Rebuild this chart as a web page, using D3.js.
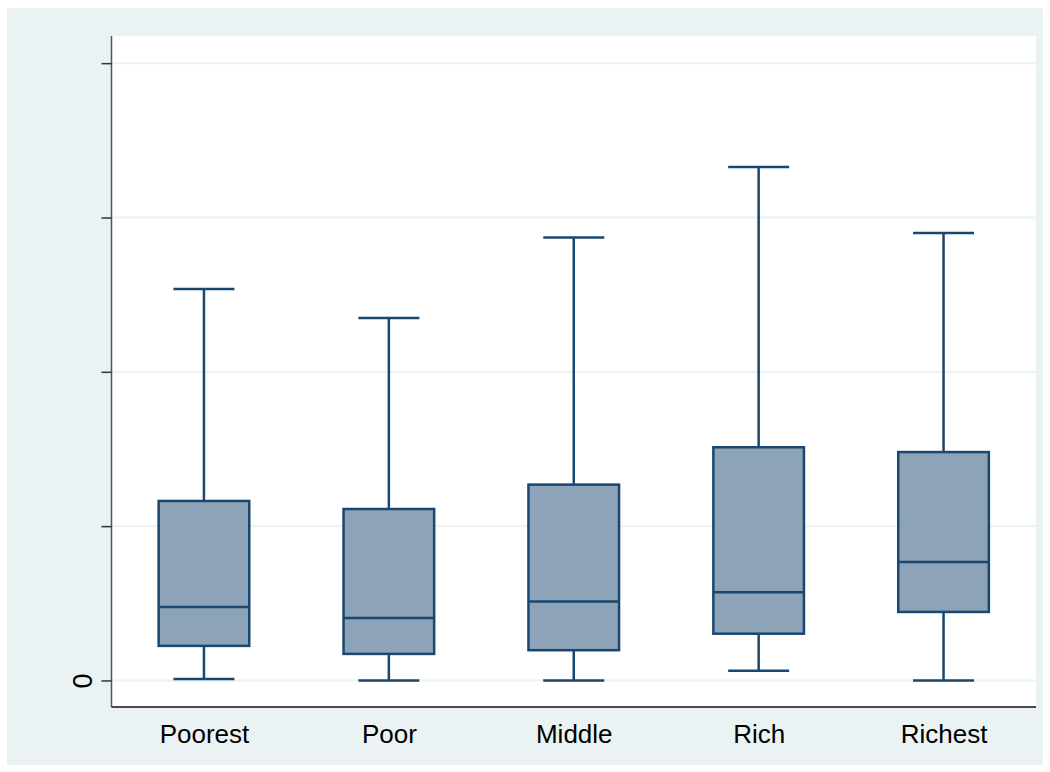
<!DOCTYPE html>
<html>
<head>
<meta charset="utf-8">
<script src="https://cdn.jsdelivr.net/npm/d3@7"></script>
<style>
  html, body { margin: 0; padding: 0; background: #ffffff; }
  svg { display: block; font-family: "Liberation Sans", Arial, sans-serif; }
</style>
</head>
<body>
<svg id="chart" width="1050" height="772"></svg>
<script>
// Wealth quintiles and their box-plot summaries
const categories = ["Poorest", "Poor", "Middle", "Rich", "Richest"];
const lowerWhisker = [0.01, 0.0, 0.0, 0.063, 0.0];
const q1 = [0.224, 0.172, 0.196, 0.303, 0.444];
const median = [0.476, 0.405, 0.511, 0.571, 0.768];
const q3 = [1.163, 1.111, 1.269, 1.511, 1.480];
const upperWhisker = [2.536, 2.349, 2.871, 3.327, 2.899];

// Y-axis ticks (only zero carries a label)
const yTickValues = [0, 1, 2, 3, 4];
const yTickLabels = ["0", "", "", "", ""];

const boxes = categories.map((c, i) => ({
  cat: c, lo: lowerWhisker[i], q1: q1[i], med: median[i], q3: q3[i], hi: upperWhisker[i]
}));

const svg = d3.select("#chart");

// Graph region background
svg.append("rect").attr("x", 7).attr("y", 8).attr("width", 1036).attr("height", 757)
  .attr("fill", "#eaf2f3");

const plot = { left: 111.5, right: 1036, top: 36, bottom: 707 };

// Plot region
svg.append("rect").attr("x", plot.left).attr("y", plot.top)
  .attr("width", plot.right - plot.left).attr("height", plot.bottom - plot.top)
  .attr("fill", "#ffffff");

const y = d3.scaleLinear().domain([-0.172, 4.176]).range([plot.bottom, plot.top]);
const x = d3.scalePoint().domain(categories).range([plot.left, plot.right]).padding(0.5);
const step = x.step();
const boxW = step * 0.49;
const capW = step * 0.33;

// Grid lines
svg.append("g").selectAll("line").data(yTickValues).join("line")
  .attr("x1", plot.left).attr("x2", plot.right)
  .attr("y1", d => y(d)).attr("y2", d => y(d))
  .attr("stroke", "#eaf2f3").attr("stroke-width", 2);

const stroke = "#1a476f";
const fill = "#8ca3b8";

const g = svg.append("g").selectAll("g").data(boxes).join("g")
  .attr("transform", d => `translate(${x(d.cat)},0)`);

// Whiskers
g.append("line").attr("x1", 0).attr("x2", 0)
  .attr("y1", d => y(d.hi)).attr("y2", d => y(d.q3))
  .attr("stroke", stroke).attr("stroke-width", 2.5);
g.append("line").attr("x1", 0).attr("x2", 0)
  .attr("y1", d => y(d.q1)).attr("y2", d => y(d.lo))
  .attr("stroke", stroke).attr("stroke-width", 2.5);
// Caps
g.append("line").attr("x1", -capW / 2).attr("x2", capW / 2)
  .attr("y1", d => y(d.hi)).attr("y2", d => y(d.hi))
  .attr("stroke", stroke).attr("stroke-width", 2.5);
g.append("line").attr("x1", -capW / 2).attr("x2", capW / 2)
  .attr("y1", d => y(d.lo)).attr("y2", d => y(d.lo))
  .attr("stroke", stroke).attr("stroke-width", 2.5);
// Boxes
g.append("rect").attr("x", -boxW / 2).attr("width", boxW)
  .attr("y", d => y(d.q3)).attr("height", d => y(d.q1) - y(d.q3))
  .attr("fill", fill).attr("stroke", stroke).attr("stroke-width", 2.5);
// Medians
g.append("line").attr("x1", -boxW / 2).attr("x2", boxW / 2)
  .attr("y1", d => y(d.med)).attr("y2", d => y(d.med))
  .attr("stroke", stroke).attr("stroke-width", 2.5);

// Y axis
const yAxis = d3.axisLeft(y).tickValues(yTickValues)
  .tickFormat((d, i) => yTickLabels[i]).tickSize(10);
const yg = svg.append("g").attr("transform", `translate(${plot.left},0)`).call(yAxis);
yg.select(".domain").attr("stroke", "#555").attr("stroke-width", 1.5)
  .attr("d", `M0,${plot.top}V${plot.bottom}`);
yg.selectAll(".tick line").attr("stroke", "#333").attr("stroke-width", 1.5);
yg.selectAll(".tick text")
  .attr("font-size", 27).attr("fill", "#000")
  .attr("text-anchor", "middle").attr("dy", 0)
  .attr("x", 0).attr("y", 0)
  .attr("transform", "translate(-20,0) rotate(-90)");

// X axis
const xAxis = d3.axisBottom(x).tickSize(0).tickPadding(18);
const xg = svg.append("g").attr("transform", `translate(0,${plot.bottom})`).call(xAxis);
xg.select(".domain").attr("stroke", "#111").attr("stroke-width", 1.5)
  .attr("d", `M${plot.left},0H${plot.right}`);
xg.selectAll(".tick text").attr("font-size", 26).attr("fill", "#000");
</script>
</body>
</html>
